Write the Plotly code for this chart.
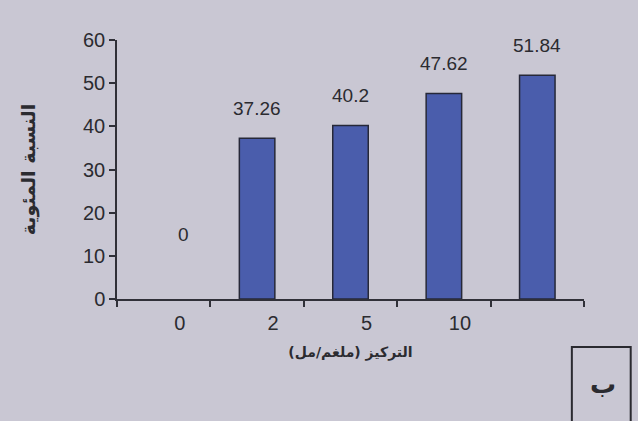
import plotly.graph_objects as go

categories = ["0", "2", "5", "10", " "]
values = [0, 37.26, 40.2, 47.62, 51.84]
value_labels = ["0", "37.26", "40.2", "47.62", "51.84"]
y_ticks = [0, 10, 20, 30, 40, 50, 60]

BG = "#c9c7d3"
TXT = "#2b2b30"
NUM_FONT = "Liberation Sans Narrow, Arial Narrow, Liberation Sans, Arial"
AR_FONT = "DejaVu Sans"

fig = go.Figure()
fig.add_trace(go.Bar(
    x=categories, y=values,
    marker=dict(color="#4a5dac",
                line=dict(color="#262838", width=[0 if v == 0 else 1.5 for v in values])),
    width=0.38,
))

for i, (v, lab) in enumerate(zip(values, value_labels)):
    fig.add_annotation(
        x=i, y=v, text=lab, showarrow=False,
        xanchor="center", yanchor="bottom",
        yshift=(52 if v == 0 else 17),
        xshift=(20 if v == 0 else 0),
        font=dict(family=NUM_FONT, size=19, color=TXT),
    )

# panel label box
fig.add_shape(type="rect", xref="paper", yref="paper",
              x0=0.974, x1=1.10, y0=-0.185, y1=-0.50,
              line=dict(color="#2a2a30", width=2), fillcolor="rgba(0,0,0,0)")
fig.add_annotation(xref="paper", yref="paper", x=1.04, y=-0.33,
                   xanchor="center", yanchor="middle",
                   text="<b>ب</b>", showarrow=False,
                   font=dict(family=AR_FONT, size=26, color=TXT))

fig.update_layout(
    width=638, height=421,
    margin=dict(l=117, r=54, t=40, b=122),
    paper_bgcolor=BG, plot_bgcolor=BG,
    showlegend=False,
    xaxis=dict(
        type="category", range=[-0.5, 4.5],
        showline=True, linecolor="#303038", linewidth=1.5,
        ticks="outside", tickson="boundaries", ticklen=6,
        tickcolor="#303038", tickwidth=1.5,
        tickfont=dict(family=NUM_FONT, size=20, color=TXT),
        ticklabelshift=16, ticklabelstandoff=5,
        title=dict(text="<b>التركيز (ملغم/مل)</b>",
                   font=dict(family=AR_FONT, size=14, color=TXT), standoff=14),
        showgrid=False, zeroline=False,
    ),
    yaxis=dict(
        range=[0, 60], tickvals=y_ticks,
        showline=True, linecolor="#303038", linewidth=1.5,
        ticks="outside", ticklen=6, tickcolor="#303038", tickwidth=1.5,
        tickfont=dict(family=NUM_FONT, size=20, color=TXT),
        title=dict(text="<b>النسبة المئوية</b>",
                   font=dict(family=AR_FONT, size=19, color=TXT), standoff=42),
        showgrid=False, zeroline=False,
    ),
)

fig.write_html("out.html")
